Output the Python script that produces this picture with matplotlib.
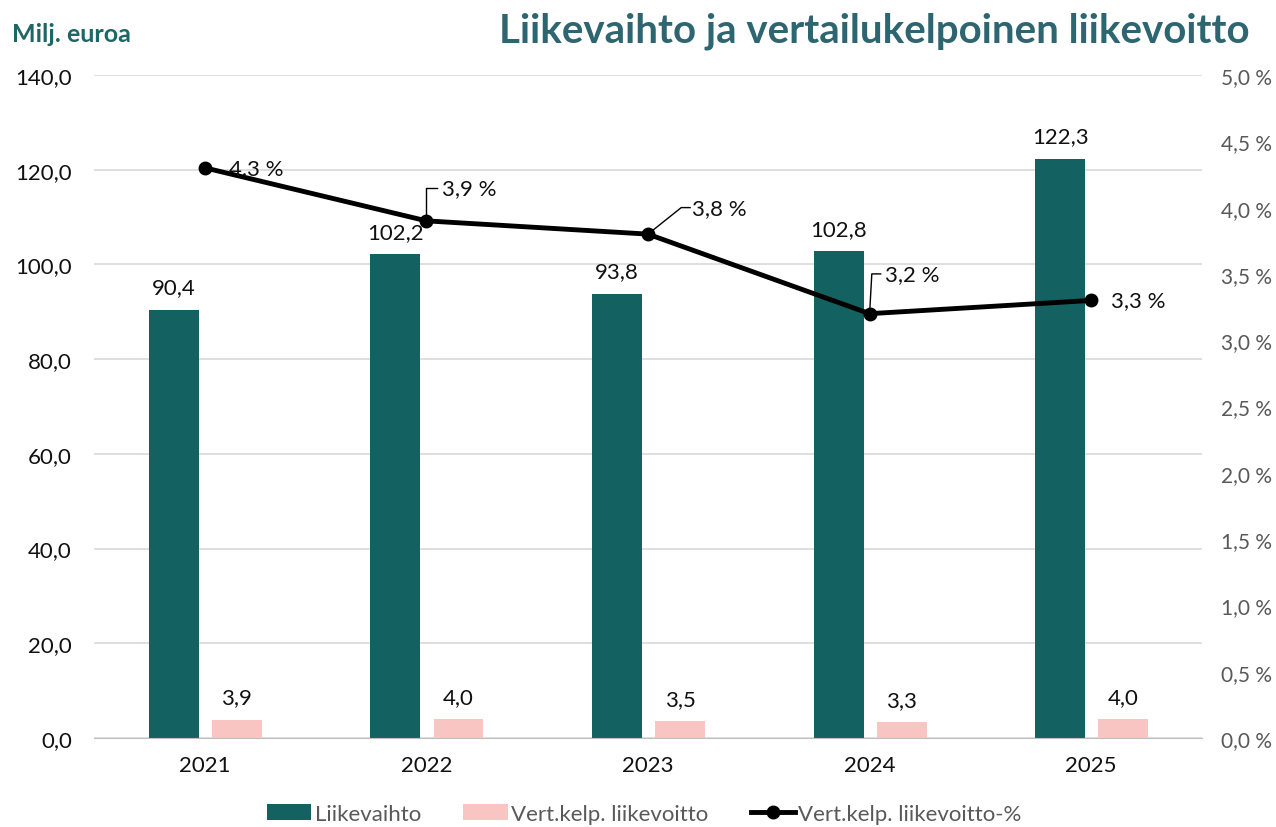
import matplotlib.pyplot as plt
import numpy as np

plt.rcParams['font.family'] = ['Lato', 'DejaVu Sans']

years = ["2021", "2022", "2023", "2024", "2025"]
liikevaihto = [90.4, 102.2, 93.8, 102.8, 122.3]
liikevoitto = [3.9, 4.0, 3.5, 3.3, 4.0]
liikevoitto_pct = [4.3, 3.9, 3.8, 3.2, 3.3]

teal = "#136161"
pink = "#F8C5C3"
title_col = "#2D6670"

fig = plt.figure(figsize=(12.76, 8.28), dpi=100)
ax = fig.add_axes([94 / 1276, 1 - 739 / 828, 1108 / 1276, 663 / 828])
ax2 = ax.twinx()

x = np.arange(len(years))
w = 0.225
ax.bar(x - 0.14, liikevaihto, w, color=teal, label="Liikevaihto", zorder=2)
ax.bar(x + 0.145, liikevoitto, w, color=pink, label="Vert.kelp. liikevoitto", zorder=2)

for xi, v in zip(x, liikevaihto):
    ax.text(xi - 0.14, v + 2.6, f"{v:.1f}".replace(".", ","), ha="center", va="bottom", fontsize=16, color="#111")
for xi, v in zip(x, liikevoitto):
    ax.text(xi + 0.145, v + 2.6, f"{v:.1f}".replace(".", ","), ha="center", va="bottom", fontsize=16, color="#111")

ax.set_xlim(-0.5, 4.5)
ax.set_ylim(0, 140)
ax.set_yticks(np.arange(0, 141, 20))
ax.set_yticklabels([f"{v:.1f}".replace(".", ",") for v in np.arange(0, 141, 20)], fontsize=16, color="#111")
ax.set_xticks(x)
ax.set_xticklabels(years, fontsize=16, color="#111")
ax.grid(axis="y", color="#d9d9d9", linewidth=1.2, zorder=0)
ax.set_axisbelow(True)
for s in ["top", "left", "right"]:
    ax.spines[s].set_visible(False)
ax.spines["bottom"].set_color("#bfbfbf")
ax.tick_params(axis="y", length=0, pad=16)
ax.tick_params(axis="x", length=0, pad=12)

ax2.plot(x, liikevoitto_pct, color="black", lw=3.5, marker="o", ms=9, label="Vert.kelp. liikevoitto-%", zorder=3)
ax2.set_ylim(0, 5)
ax2.set_yticks(np.arange(0, 5.01, 0.5))
ax2.set_yticklabels([f"{v:.1f} %".replace(".", ",") for v in np.arange(0, 5.01, 0.5)], fontsize=15, color="#595959")
ax2.tick_params(axis="y", length=0, pad=14)
for s in ["top", "left", "right", "bottom"]:
    ax2.spines[s].set_visible(False)

def pct(v):
    return f"{v:.1f} %".replace(".", ",")

# labels, some with leader lines
ax2.text(x[0] + 0.11, liikevoitto_pct[0], pct(liikevoitto_pct[0]), va="center", fontsize=16, color="#111")
ax2.plot([x[1], x[1], x[1] + 0.05], [liikevoitto_pct[1], 4.15, 4.15], color="black", lw=1)
ax2.text(x[1] + 0.07, 4.15, pct(liikevoitto_pct[1]), va="center", fontsize=16, color="#111")
ax2.plot([x[2], x[2] + 0.15, x[2] + 0.19], [liikevoitto_pct[2], 4.0, 4.0], color="black", lw=1)
ax2.text(x[2] + 0.2, 4.0, pct(liikevoitto_pct[2]), va="center", fontsize=16, color="#111")
ax2.plot([x[3], x[3] + 0.01, x[3] + 0.05], [liikevoitto_pct[3], 3.5, 3.5], color="black", lw=1)
ax2.text(x[3] + 0.07, 3.5, pct(liikevoitto_pct[3]), va="center", fontsize=16, color="#111")
ax2.text(x[4] + 0.09, liikevoitto_pct[4], pct(liikevoitto_pct[4]), va="center", fontsize=16, color="#111")

h1, l1 = ax.get_legend_handles_labels()
h2, l2 = ax2.get_legend_handles_labels()
fig.legend(h1 + h2, l1 + l2, loc="center", bbox_to_anchor=(0.505, 1 - 815 / 828), ncol=3,
           frameon=False, fontsize=16, labelcolor="#595959", handlelength=2.0, handletextpad=0.15,
           columnspacing=1.9)

fig.text(12 / 1276, 1 - 34 / 828, "Milj. euroa", fontsize=18, fontweight="bold", color="#1F6666", va="center")
fig.text(1250 / 1276, 1 - 31 / 828, "Liikevaihto ja vertailukelpoinen liikevoitto", fontsize=29,
         fontweight="bold", color=title_col, ha="right", va="center")

fig.savefig("out.png", dpi=100)
